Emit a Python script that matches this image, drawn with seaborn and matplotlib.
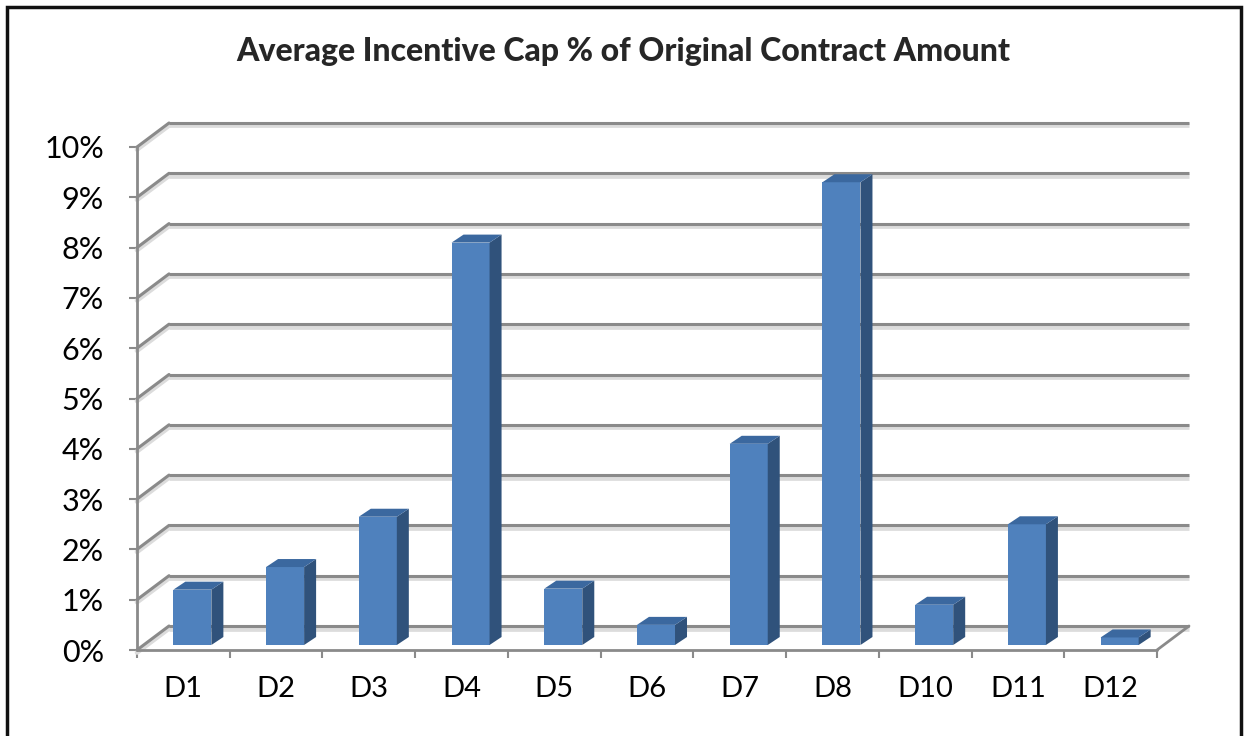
import matplotlib
matplotlib.use("Agg")
import matplotlib.pyplot as plt
import seaborn as sns
import pandas as pd
from matplotlib.patches import Polygon, Rectangle

categories = ["D1", "D2", "D3", "D4", "D5", "D6", "D7", "D8", "D10", "D11", "D12"]
values = [1.1, 1.55, 2.55, 8.0, 1.12, 0.4, 4.0, 9.2, 0.8, 2.4, 0.15]  # percent
tick_values = list(range(0, 11))
tick_labels = [f"{v}%" for v in tick_values]
title = "Average Incentive Cap % of Original Contract Amount"

df = pd.DataFrame({"district": categories, "cap": values})

sns.set_style("white")
plt.rcParams["font.family"] = ["Lato", "DejaVu Sans"]

W, H = 1244, 736
fig = plt.figure(figsize=(W / 100, H / 100), dpi=100)

# front plane of the 3d box, in pixels
left, right, bottom, top = 137, 1157, 650, 147
ax = fig.add_axes([left / W, 1 - bottom / H, (right - left) / W, (bottom - top) / H])

front = "#4f81bd"
side = "#30527b"
lid = "#3b689f"
grid = "#8a8a8a"
shade = "#dcdcdc"

sns.barplot(data=df, x="district", y="cap", color=front, saturation=1,
            width=0.41, ax=ax, zorder=5)
ax.set_xlim(-0.5, len(categories) - 0.5)
ax.set_ylim(0, 10)

# pixel -> data helpers
px_x = (right - left) / len(categories)
px_y = (bottom - top) / 10.0
def dx(p):
    return p / px_x
def dy(p):
    return p / px_y

# back wall gridlines + left wall connectors
bx, by = dx(32), dy(24)
x0, x1 = -0.5, len(categories) - 0.5
for v in tick_values:
    for col, lw, sh in [(shade, 3.4, dy(2.5)), (grid, 2.2, 0)]:
        ax.plot([x0 + bx, x1 + bx], [v + by - sh, v + by - sh], color=col, lw=lw,
                clip_on=False, zorder=1, solid_capstyle="butt")
        ax.plot([x0, x0 + bx], [v - sh, v + by - sh], color=col, lw=lw,
                clip_on=False, zorder=1)
# floor right edge and front edge
ax.plot([x1, x1 + bx], [0, by], color=grid, lw=2.0, clip_on=False, zorder=2)
ax.plot([x0, x1], [0, 0], color=grid, lw=2.0, clip_on=False, zorder=2)
ax.plot([x0, x0], [0, 10], color=grid, lw=2.0, clip_on=False, zorder=2)

# shift bars slightly into the box and add side / top faces
ox, oy = dx(9), dy(5)
ddx, ddy = dx(12), dy(8)
for p in ax.patches:
    x, w, h = p.get_x() + ox, p.get_width(), p.get_height()
    b = p.get_y() + oy
    p.set_x(x)
    p.set_y(b)
    p.set_edgecolor("none")
    ax.add_patch(Polygon([(x + w, b), (x + w + ddx, b + ddy), (x + w + ddx, b + h + ddy), (x + w, b + h)],
                         closed=True, facecolor=side, edgecolor="none", zorder=5, clip_on=False))
    ax.add_patch(Polygon([(x, b + h), (x + ddx, b + h + ddy), (x + w + ddx, b + h + ddy), (x + w, b + h)],
                         closed=True, facecolor=lid, edgecolor="none", zorder=5, clip_on=False))

for s in ax.spines.values():
    s.set_visible(False)

ax.set_yticks(tick_values)
ax.set_yticklabels(tick_labels)
ax.set_xticks(range(len(categories)))
ax.set_xticklabels(categories)
ax.set_xticks([i - 0.5 for i in range(len(categories) + 1)], minor=True)
ax.tick_params(axis="y", length=5.8, width=1.5, color=grid, pad=18, labelsize=22,
               labelcolor="black", left=True)
ax.tick_params(axis="x", which="major", length=0, pad=19, labelsize=21, labelcolor="black")
ax.tick_params(axis="x", which="minor", length=5.8, width=1.5, color=grid, bottom=True)
ax.set_xlabel("")
ax.set_ylabel("")
ax.patch.set_alpha(0)

fig.text(623 / W, 1 - 52 / H, title, ha="center", va="center",
         fontsize=23, fontweight="black")

fig.add_artist(Rectangle((7 / W, -0.02), (1241 - 7) / W, 1.02 - 7 / H,
                         transform=fig.transFigure, fill=False, edgecolor="#111111", lw=2.5))

fig.savefig("out.png", dpi=100)
